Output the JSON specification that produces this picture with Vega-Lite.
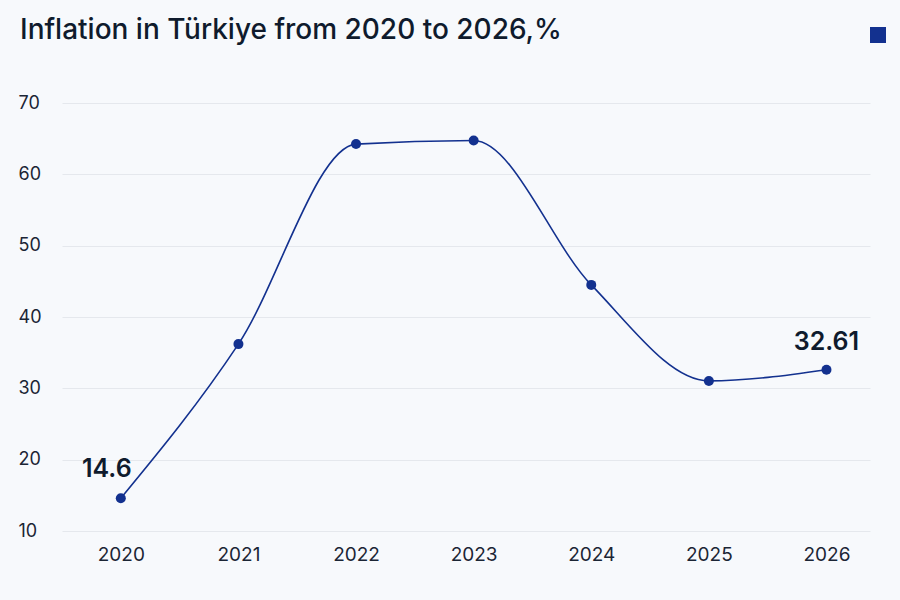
{
  "$schema": "https://vega.github.io/schema/vega-lite/v6.json",
  "description": "Inflation in Türkiye from 2020 to 2026, %",
  "autosize": "none",
  "width": 808,
  "height": 428,
  "padding": {"left": 62, "top": 103, "right": 30, "bottom": 69},
  "background": "#f7f9fc",
  "title": {
    "text": "Inflation in Türkiye from 2020 to 2026,%",
    "anchor": "start",
    "frame": "group",
    "dx": -42,
    "dy": 18,
    "offset": 0,
    "font": "Inter",
    "fontSize": 28,
    "fontWeight": 500,
    "color": "#0f1b2d"
  },
  "data": {
    "values": [
      {"year": 2020, "value": 14.6, "label": "14.6"},
      {"year": 2021, "value": 36.2, "label": ""},
      {"year": 2022, "value": 64.24, "label": ""},
      {"year": 2023, "value": 64.74, "label": ""},
      {"year": 2024, "value": 44.5, "label": ""},
      {"year": 2025, "value": 31.04, "label": ""},
      {"year": 2026, "value": 32.61, "label": "32.61"}
    ]
  },
  "encoding": {
    "x": {
      "field": "year",
      "type": "quantitative",
      "title": null,
      "scale": {"domain": [2019.5, 2026.37], "nice": false, "zero": false},
      "axis": {
        "values": [2020, 2021, 2022, 2023, 2024, 2025, 2026],
        "format": "d",
        "grid": false,
        "domain": false,
        "ticks": false,
        "labelPadding": 14,
        "labelFont": "Inter",
        "labelFontSize": 19,
        "labelColor": "#1b2535"
      }
    },
    "y": {
      "field": "value",
      "type": "quantitative",
      "title": null,
      "scale": {"domain": [10, 70], "nice": false, "zero": false},
      "axis": {
        "values": [10, 20, 30, 40, 50, 60, 70],
        "grid": true,
        "gridColor": "#e5e8ed",
        "gridWidth": 1,
        "domain": false,
        "ticks": false,
        "labelAlign": "left",
        "labelPadding": 44,
        "labelFont": "Inter",
        "labelFontSize": 18,
        "labelColor": "#1b2535"
      }
    }
  },
  "layer": [
    {
      "mark": {"type": "line", "interpolate": "monotone", "color": "#13318f", "strokeWidth": 1.6}
    },
    {
      "mark": {"type": "point", "filled": true, "opacity": 1, "size": 100},
      "encoding": {
        "color": {
          "datum": "Inflation",
          "scale": {"range": ["#13318f"]},
          "legend": {
            "orient": "none",
            "legendX": 808,
            "legendY": -76,
            "title": null,
            "symbolType": "square",
            "symbolSize": 256,
            "symbolStrokeWidth": 0,
            "symbolOpacity": 1,
            "labelExpr": "''",
            "padding": 0
          }
        }
      }
    },
    {
      "transform": [{"filter": "datum.year == 2020"}],
      "mark": {"type": "text", "font": "Inter", "fontSize": 25, "fontWeight": 600, "color": "#0f1b2d", "baseline": "middle", "dy": -29, "dx": -14},
      "encoding": {
        "text": {"field": "label"}
      }
    },
    {
      "transform": [{"filter": "datum.year == 2026"}],
      "mark": {"type": "text", "font": "Inter", "fontSize": 25, "fontWeight": 600, "color": "#0f1b2d", "baseline": "middle", "dy": -28},
      "encoding": {
        "text": {"field": "label"}
      }
    }
  ],
  "config": {
    "view": {"stroke": null}
  }
}
